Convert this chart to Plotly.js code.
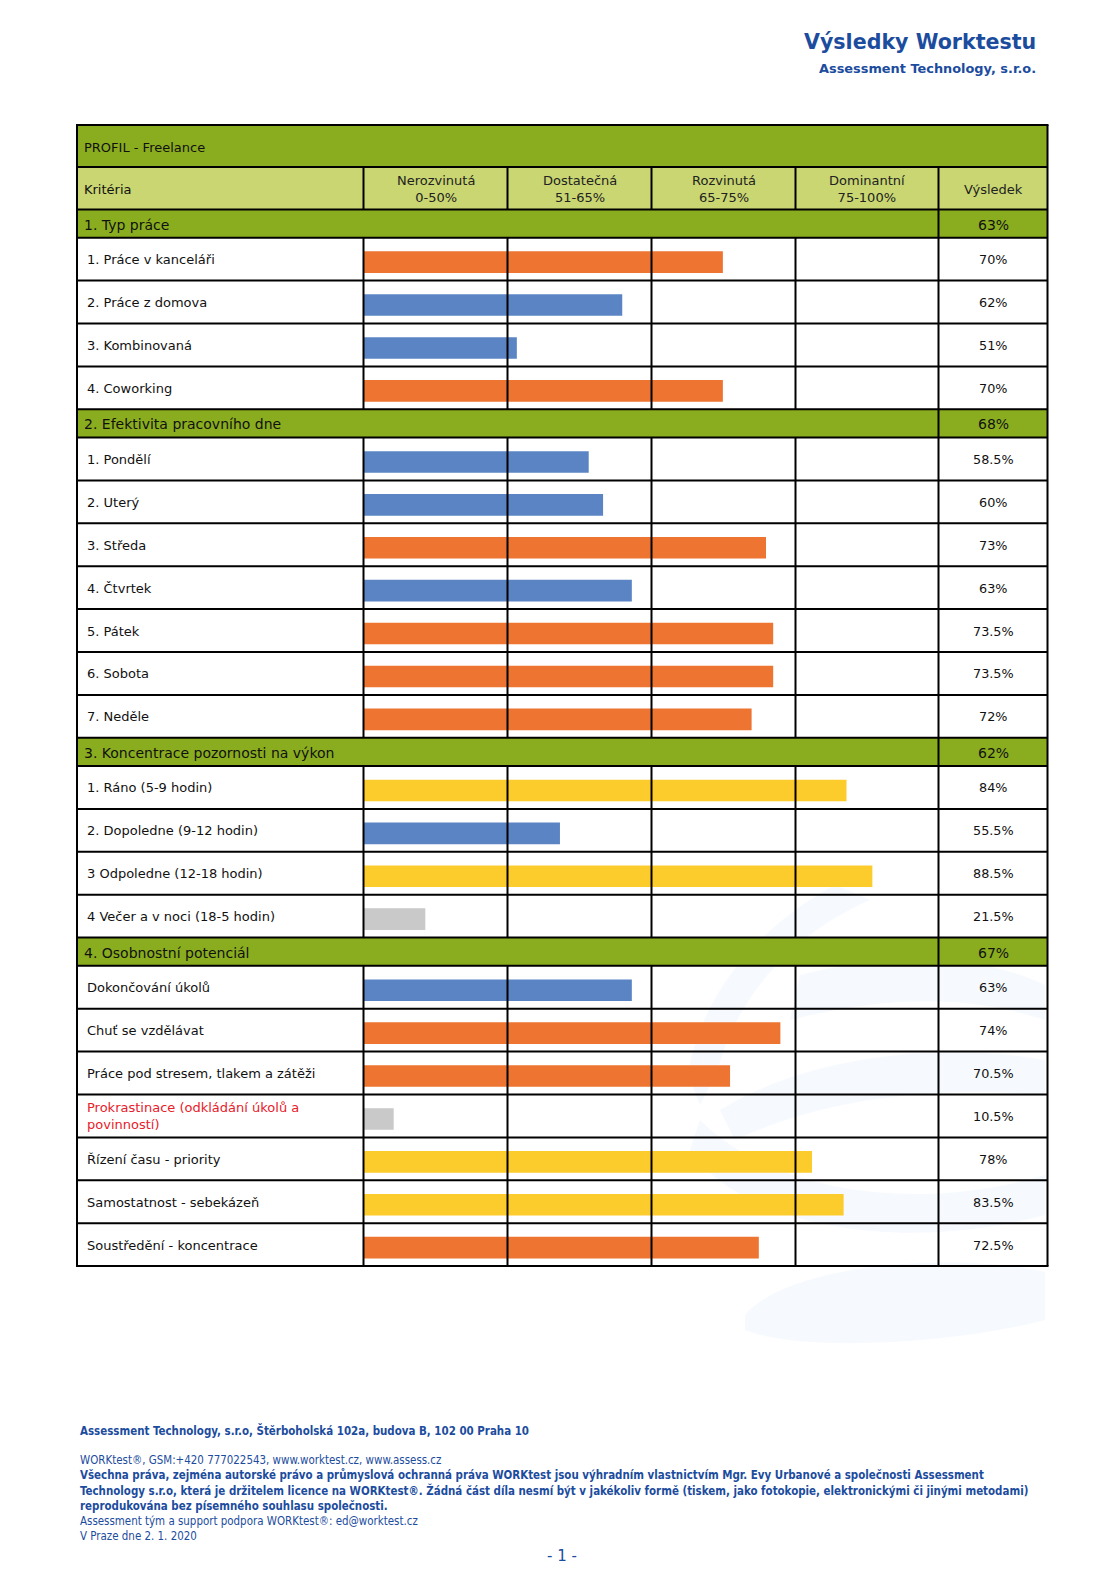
<!DOCTYPE html>
<html><head><meta charset="utf-8">
<script src="https://cdn.plot.ly/plotly-3.0.1.min.js"></script>
<style>html,body{margin:0;padding:0;background:#fff}#chart{width:1115px;height:1582px}</style>
</head><body><div id="chart"></div>
<script>
// ---------------- DATA ----------------
const pageTitle = "Výsledky Worktestu";
const pageSubtitle = "Assessment Technology, s.r.o.";
const profileName = "PROFIL - Freelance";
const criteriaHeader = "Kritéria";
const resultHeader = "Výsledek";
const bandNames = ["Nerozvinutá", "Dostatečná", "Rozvinutá", "Dominantní"];
const bandRanges = ["0-50%", "51-65%", "65-75%", "75-100%"];
const bandBreaks = [0, 50, 65, 75, 100];
const bandColors = ["#c9c9c9", "#5a84c3", "#ed7431", "#fccb2c"];

const sectionNames = ["1. Typ práce", "2. Efektivita pracovního dne", "3. Koncentrace pozornosti na výkon", "4. Osobnostní potenciál"];
const sectionScores = [63, 68, 62, 67];

const sec1Labels = ["1. Práce v kanceláři", "2. Práce z domova", "3. Kombinovaná", "4. Coworking"];
const sec1Values = [70, 62, 51, 70];
const sec2Labels = ["1. Pondělí", "2. Uterý", "3. Středa", "4. Čtvrtek", "5. Pátek", "6. Sobota", "7. Neděle"];
const sec2Values = [58.5, 60, 73, 63, 73.5, 73.5, 72];
const sec3Labels = ["1. Ráno (5-9 hodin)", "2. Dopoledne (9-12 hodin)", "3 Odpoledne (12-18 hodin)", "4 Večer a v noci (18-5 hodin)"];
const sec3Values = [84, 55.5, 88.5, 21.5];
const sec4Labels = ["Dokončování úkolů", "Chuť se vzdělávat", "Práce pod stresem, tlakem a zátěži", "Prokrastinace (odkládání úkolů a<br>povinností)", "Řízení času - priority", "Samostatnost - sebekázeň", "Soustředění - koncentrace"];
const sec4Values = [63, 74, 70.5, 10.5, 78, 83.5, 72.5];
const negativeItems = ["Prokrastinace (odkládání úkolů a<br>povinností)"];

const footerLines = [
  {t: "Assessment Technology, s.r.o, Štěrboholská 102a, budova B, 102 00 Praha 10", b: true},
  {t: "WORKtest®, GSM:+420 777022543, www.worktest.cz, www.assess.cz", b: false},
  {t: "Všechna práva, zejména autorské právo a průmyslová ochranná práva WORKtest jsou výhradním vlastnictvím Mgr. Evy Urbanové a společnosti Assessment", b: true},
  {t: "Technology s.r.o, která je držitelem licence na WORKtest®. Žádná část díla nesmí být v jakékoliv formě (tiskem, jako fotokopie, elektronickými či jinými metodami)", b: true},
  {t: "reprodukována bez písemného souhlasu společnosti.", b: true},
  {t: "Assessment tým a support podpora WORKtest®: ed@worktest.cz", b: false},
  {t: "V Praze dne 2. 1. 2020", b: false}
];
const pageNumber = "- 1 -";

// ---------------- LAYOUT CONSTANTS ----------------
const W = 1115, H = 1582;
const TL = 77, TR = 1047.5;
const colX = [363.5, 507.5, 651.5, 795.5, 938.5];
const T0 = 125, T1 = 167, T2 = 209.5;
const SEC_H = 28.2, ITEM_H = 42.9;
const DARK = "#8aad1f", LIGHT = "#c9d671", BLUE = "#1c4c9e";
const FONT = "DejaVu Sans, Verdana, sans-serif";
const FONTC = "DejaVu Sans Condensed, DejaVu Sans, sans-serif";
const px = v => v / W;

const sections = [
  {labels: sec1Labels, values: sec1Values},
  {labels: sec2Labels, values: sec2Values},
  {labels: sec3Labels, values: sec3Values},
  {labels: sec4Labels, values: sec4Values}
];

// piecewise band scale: each band occupies one column unit
function bandPos(v) {
  for (let i = 0; i < 4; i++) {
    if (v <= bandBreaks[i + 1] || i === 3) return i + (v - bandBreaks[i]) / (bandBreaks[i + 1] - bandBreaks[i]);
  }
}
function bandColor(v) {
  for (let i = 0; i < 4; i++) if (v <= bandBreaks[i + 1]) return bandColors[i];
  return bandColors[3];
}
const fmt = v => v + "%";

// ---------------- BUILD ----------------
const shapes = [], ann = [];
const barX = [], barY = [], barC = [];

// watermark (faint swooshes)
const wm = "rgba(170,200,235,0.11)";
const wmPaths = [
  [[835,885],[760,925,700,995,688,1075],[700,1105],[718,1070],[735,1000,790,935,870,900]],
  [[700,1120],[770,1190,910,1215,1045,1175],[1045,1215],[900,1255,740,1225,690,1150]],
  [[745,1315],[790,1262,960,1252,1045,1272],[1045,1320],[950,1345,800,1352,745,1330]],
  [[800,975],[900,950,980,955,1045,985],[1045,1020],[970,995,890,995,790,1020]],
  [[720,1110],[800,1060,930,1040,1045,1060],[1045,1095],[930,1085,820,1100,735,1140]]
];
wmPaths.forEach(p => {
  let d = "M " + px(p[0][0]) + " " + p[0][1];
  for (let k = 1; k < p.length; k++) {
    const s = p[k];
    if (s.length === 6) d += " C " + px(s[0]) + " " + s[1] + ", " + px(s[2]) + " " + s[3] + ", " + px(s[4]) + " " + s[5];
    else d += " L " + px(s[0]) + " " + s[1];
  }
  d += " Z";
  shapes.push({type: "path", xref: "paper", yref: "y", path: d, fillcolor: wm, line: {width: 0}, layer: "below"});
});

function rect(x0, x1, y0, y1, fill) {
  shapes.push({type: "rect", xref: "paper", yref: "y", x0: px(x0), x1: px(x1), y0: y0, y1: y1, fillcolor: fill, line: {width: 0}, layer: "below"});
}
const lines = [];
function hline(x0, x1, y) { lines.push({type: "line", xref: "paper", yref: "y", x0: px(x0), x1: px(x1), y0: y, y1: y, line: {color: "#000", width: 2}}); }
function vline(x, y0, y1) { lines.push({type: "line", xref: "paper", yref: "y", x0: px(x), x1: px(x), y0: y0, y1: y1, line: {color: "#000", width: 2}}); }
function text(x, y, s, opt) {
  ann.push(Object.assign({xref: "paper", yref: "y", x: px(x), y: y, text: s, showarrow: false, xanchor: "left", yanchor: "middle", align: "left",
    font: {family: FONT, size: 13, color: "#111"}}, opt || {}));
}

// page header
text(1038, 42, "<b>" + pageTitle + "</b>", {xanchor: "right", align: "right", font: {family: FONT, size: 20.6, color: BLUE}});
text(1038, 68, "<b>" + pageSubtitle + "</b>", {xanchor: "right", align: "right", font: {family: FONT, size: 12.9, color: BLUE}});

// title row
rect(TL, TR, T0, T1, DARK);
text(82, (T0 + T1) / 2 + 1, profileName, {font: {family: FONT, size: 13, color: "#111"}});
hline(TL, TR, T1);
// header row
rect(TL, TR, T1, T2, LIGHT);
text(82, (T1 + T2) / 2 + 1, criteriaHeader, {font: {family: FONT, size: 13, color: "#111"}});
for (let i = 0; i < 4; i++) {
  text((colX[i] + colX[i + 1]) / 2, (T1 + T2) / 2 + 1, bandNames[i] + "<br>" + bandRanges[i], {xanchor: "center", align: "center", font: {family: FONT, size: 13, color: "#222"}});
}
text((colX[4] + TR) / 2, (T1 + T2) / 2 + 1, resultHeader, {xanchor: "center", align: "center", font: {family: FONT, size: 13, color: "#222"}});
colX.forEach(x => vline(x, T1, T2));
hline(TL, TR, T2);

let y = T2;
sections.forEach((sec, si) => {
  const ys = y, ye = y + SEC_H;
  rect(TL, TR, ys, ye, DARK);
  text(82, (ys + ye) / 2 + 1, sectionNames[si], {font: {family: FONT, size: 14, color: "#111"}});
  text((colX[4] + TR) / 2, (ys + ye) / 2 + 1, fmt(sectionScores[si]), {xanchor: "center", align: "center", font: {family: FONT, size: 14, color: "#111"}});
  vline(colX[4], ys, ye);
  hline(TL, TR, ye);
  y = ye;
  sec.labels.forEach((lab, li) => {
    const v = sec.values[li];
    const r0 = y, r1 = y + ITEM_H, c = (r0 + r1) / 2;
    const neg = negativeItems.indexOf(lab) >= 0;
    text(85, c + 0.5, lab, {font: {family: FONT, size: 13, color: neg ? "#e8202a" : "#111"}});
    text((colX[4] + TR) / 2, c + 0.5, fmt(v), {xanchor: "center", align: "center", font: {family: FONT, size: 12.8, color: "#111"}});
    barX.push(bandPos(v)); barY.push(c + 3); barC.push(bandColor(v));
    colX.forEach(x => vline(x, r0, r1));
    hline(TL, TR, r1);
    y = r1;
  });
});
const TB = y;
// outer border
vline(TL, T0, TB); vline(TR, T0, TB); hline(TL - 1, TR + 1, T0); hline(TL - 1, TR + 1, TB);

// footer
const fy = [1430, 1460, 1475, 1490, 1505.5, 1520.5, 1536];
footerLines.forEach((f, i) => {
  text(77.5, fy[i], f.b ? "<b>" + f.t + "</b>" : f.t, {font: {family: FONTC, size: 11.45, color: BLUE}});
});
text(562, 1556, pageNumber, {xanchor: "center", align: "center", font: {family: FONT, size: 15, color: BLUE}});

const data = [{
  type: "bar", orientation: "h", x: barX, y: barY, width: 21.6, base: 0,
  marker: {color: barC, line: {width: 0}}, hoverinfo: "skip", showlegend: false
}];

const layout = {
  width: W, height: H, margin: {l: 0, r: 0, t: 0, b: 0, pad: 0},
  paper_bgcolor: "#fff", plot_bgcolor: "rgba(0,0,0,0)",
  xaxis: {domain: [px(colX[0]), px(colX[4])], range: [0, 4], visible: false, fixedrange: true},
  yaxis: {domain: [0, 1], range: [H, 0], visible: false, fixedrange: true},
  shapes: shapes.concat(lines),
  annotations: ann,
  showlegend: false
};
Plotly.newPlot("chart", data, layout, {staticPlot: true, displayModeBar: false});
</script></body></html>
